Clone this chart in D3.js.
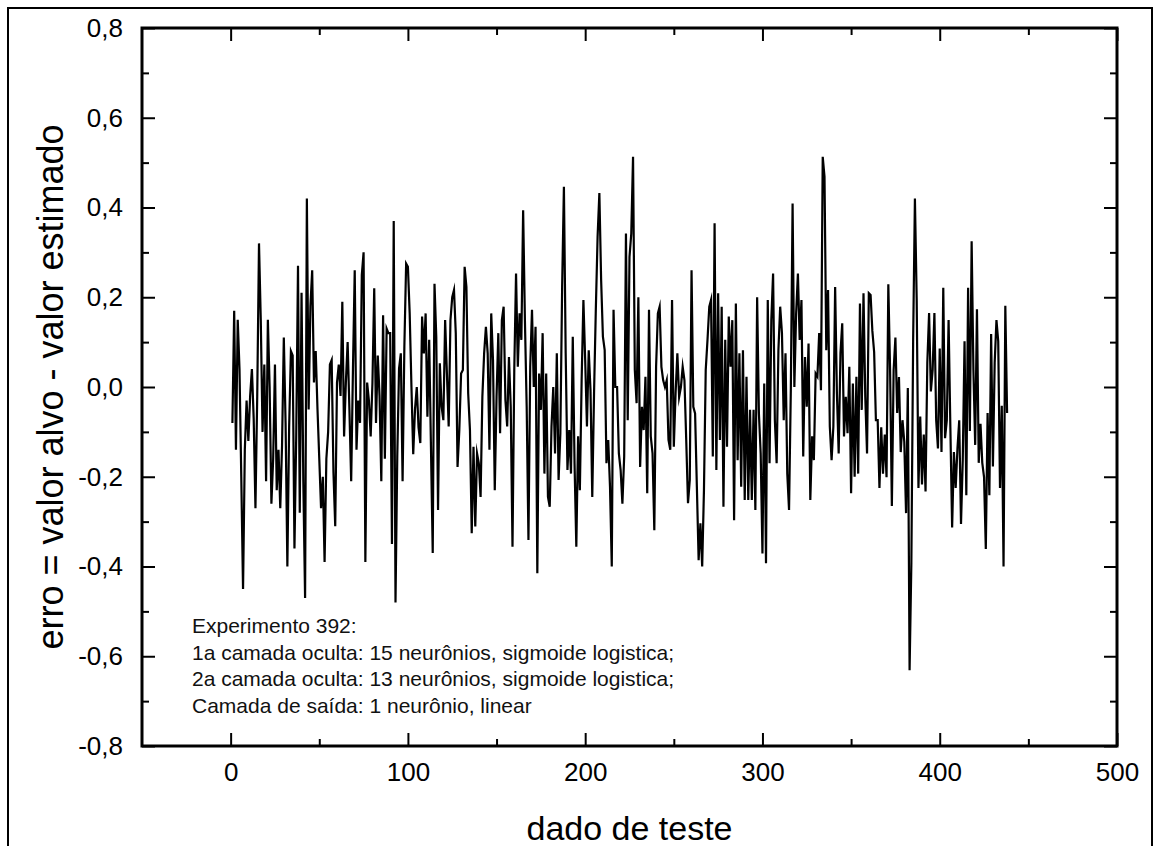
<!DOCTYPE html>
<html>
<head>
<meta charset="utf-8">
<script src="https://cdn.jsdelivr.net/npm/d3@7"></script>
<style>
  html, body { margin: 0; padding: 0; background: #fff; }
  svg { display: block; }
  .tick text { font-family: 'Liberation Sans', Arial, sans-serif; font-size: 26px; fill: #000; }
  .tick line { stroke: #000; stroke-width: 2px; }
</style>
</head>
<body>
<svg id="chart" width="1157" height="846"></svg>
<script>
var xDomain = [-50, 500];
var yDomain = [-0.8, 0.8];
var xTicks = [0, 100, 200, 300, 400, 500];
var xMinorTicks = [50, 150, 250, 350, 450];
var yTicks = [-0.8, -0.6, -0.4, -0.2, 0.0, 0.2, 0.4, 0.6, 0.8];
var yMinorTicks = [-0.7, -0.5, -0.3, -0.1, 0.1, 0.3, 0.5, 0.7];
var xTitle = 'dado de teste';
var yTitle = 'erro = valor alvo - valor estimado';
var captionLines = [
    'Experimento 392:',
    '1a camada oculta: 15 neurônios, sigmoide logistica;',
    '2a camada oculta: 13 neurônios, sigmoide logistica;',
    'Camada de saída: 1 neurônio, linear'
];

// erro por dado de teste (1..438)
var errorsA = [
    -0.08, 0.17, -0.14, 0.15, 0.04, -0.20, -0.45, -0.14, -0.03, -0.12,
    -0.02, 0.04, -0.07, -0.27, -0.02, 0.32, 0.15, -0.10, 0.05, -0.21,
    0.15, 0.00, -0.26, -0.16, 0.05, -0.23, -0.14, -0.27, -0.13, 0.11,
    -0.08, -0.40, -0.09, 0.08, 0.07, -0.36, -0.11, 0.27, -0.28, 0.21,
    -0.21, -0.47, 0.42, -0.05, 0.18, 0.26, 0.01, 0.08, -0.05, -0.16,
    -0.27, -0.20, -0.39, -0.16, -0.10, 0.05, 0.06, -0.19, -0.31, 0.01,
    0.05, -0.02, 0.19, -0.11, 0.01, 0.10, -0.05, -0.21, 0.04, 0.26,
    -0.14, -0.03, -0.08, 0.25, 0.30, -0.39, 0.01, -0.03, -0.11, 0.01,
    0.22, -0.08, 0.07, -0.02, -0.21, 0.16, -0.16, 0.13, 0.12, 0.12,
    -0.35
];
var errorsB = [
    0.37, -0.48, -0.155, 0.041, 0.075, -0.21, 0.09, 0.275, 0.268, 0.164,
    0.0, -0.15, -0.05, 0.0, -0.09, -0.125, 0.157, 0.075, 0.164, -0.066,
    0.105, -0.133, -0.37, 0.23, 0.112, -0.274, 0.053, -0.044, -0.074, 0.149,
    0.03, -0.088, 0.149, 0.2, 0.216, 0.12, -0.178, -0.096, 0.03, 0.038,
    0.268, 0.223, -0.014, -0.096, -0.326, -0.133, -0.311, -0.148, -0.17, -0.245,
    -0.022, 0.075, 0.134, 0.075, -0.14, 0.164, 0.06, -0.23, -0.022, 0.12,
    -0.103, 0.149, 0.179, -0.029, -0.088, 0.067, -0.044, -0.356, 0.038, 0.253,
    0.045, 0.164, 0.105, 0.394, 0.149, -0.044, -0.341, 0.045, 0.172, 0.0,
    0.134, -0.415, 0.03, -0.051, 0.12, -0.193, 0.03, -0.245, -0.267, -0.088,
    0.0, -0.148, 0.075, -0.207, -0.103, 0.223, 0.446, 0.075, -0.185, -0.096,
    -0.193, 0.112, -0.17, -0.356, -0.11, -0.23, 0.015, 0.194, 0.06, -0.088,
    0.082, -0.007, -0.245, -0.014, 0.172, 0.335, 0.432, 0.238, 0.112, 0.082,
    -0.17, -0.118, -0.222, -0.4, 0.172, 0.0, 0.0, -0.148, -0.185, -0.26,
    -0.155, 0.342, -0.074, 0.29, 0.342
];
var errorsC = [
    0.513, 0.038, -0.036, 0.2, -0.178, -0.044, -0.096, 0.023, -0.237, 0.172,
    -0.11, -0.148, -0.319, 0.045, 0.164, 0.179, 0.045, 0.015, 0.0, 0.015,
    -0.118, -0.14, 0.194, -0.133, -0.014, 0.075, -0.022, 0.0, 0.045, 0.015,
    -0.118, -0.259, -0.207, 0.26, -0.044, -0.059, -0.222, -0.386, -0.304, -0.4,
    -0.23, 0.038, 0.105, 0.179, 0.194, -0.155, 0.365, -0.185, 0.209, -0.118,
    0.179, -0.267, 0.105, -0.133, 0.157, 0.045, 0.149, -0.297, 0.186, -0.163,
    0.075, -0.222, 0.082, -0.252, 0.023, -0.252, -0.051, -0.252, -0.051, -0.274,
    0.2, -0.059, -0.148, -0.371, 0.008, -0.393, 0.194, -0.17, 0.149, 0.253,
    -0.074, -0.17, 0.082, 0.179, 0.12, -0.074, 0.075, -0.193, -0.274, -0.007,
    0.409, 0.0, 0.164, 0.253, 0.105, 0.194, -0.155, 0.067, -0.044, 0.097,
    -0.252, -0.11, -0.163, 0.03, 0.023, 0.12, -0.007, 0.513, 0.469, 0.082,
    0.216, -0.088, -0.163, -0.088, 0.223, -0.014, -0.148, 0.075, 0.142, -0.11,
    -0.022, -0.103, 0.045, -0.237, 0.008, -0.2, 0.023, -0.193, 0.186, -0.051,
    0.209, -0.022, -0.148, 0.209
];
var errorsD = [
    0.205, 0.125, 0.078, -0.074, -0.074, -0.225, -0.09, -0.193, -0.106, -0.201,
    0.229, 0.038, -0.265, 0.038, 0.11, -0.058, 0.022, -0.145, -0.074, -0.122,
    -0.281, -0.002, -0.631, -0.392, 0.102, 0.42, 0.197, -0.225, -0.066, -0.217,
    -0.106, -0.233, 0.054, 0.165, -0.01, 0.038, 0.165, -0.074, -0.137, 0.086,
    -0.145, 0.221, -0.114, -0.074, 0.149, -0.09, -0.313, -0.145, -0.225, -0.137,
    -0.074, -0.305, -0.161, 0.102, -0.241, 0.221, -0.098, 0.325, 0.038, -0.129,
    0.173, -0.169, -0.082, -0.169, -0.201, -0.361, -0.058, -0.241, 0.118, -0.177,
    0.054, 0.149, 0.102, -0.225, -0.042, -0.4, 0.181, -0.058
];
var errorValues = errorsA.concat(errorsB, errorsC, errorsD);

var svg = d3.select('#chart');
var plot = { left: 142, right: 1117, top: 28, bottom: 746 };
var x = d3.scaleLinear().domain(xDomain).range([plot.left, plot.right]);
var y = d3.scaleLinear().domain(yDomain).range([plot.bottom, plot.top]);
var sansFont = "'Liberation Sans', Arial, sans-serif";

function commaFormat(d) {
    return d.toFixed(1).replace('.', ',');
}

// moldura externa (recorte da pagina)
svg.append('rect')
    .attr('x', 8).attr('y', 8)
    .attr('width', 1144).attr('height', 860)
    .attr('fill', 'none').attr('stroke', '#000').attr('stroke-width', 2);

function addAxis(axis, transform, labels) {
    var g = svg.append('g').attr('transform', transform).call(axis);
    g.select('.domain').remove();
    if (!labels) g.selectAll('text').remove();
    return g;
}

// eixo x: baixo (com rotulos) e topo, ticks para dentro
addAxis(d3.axisBottom(x).tickValues(xTicks).tickSizeInner(-13).tickSizeOuter(0).tickPadding(17)
    .tickFormat(d3.format('d')), 'translate(0,' + plot.bottom + ')', true);
addAxis(d3.axisBottom(x).tickValues(xMinorTicks).tickSizeInner(-7).tickSizeOuter(0),
    'translate(0,' + plot.bottom + ')', false);
addAxis(d3.axisTop(x).tickValues(xTicks).tickSizeInner(-13).tickSizeOuter(0),
    'translate(0,' + plot.top + ')', false);
addAxis(d3.axisTop(x).tickValues(xMinorTicks).tickSizeInner(-7).tickSizeOuter(0),
    'translate(0,' + plot.top + ')', false);

// eixo y: esquerda (com rotulos) e direita
addAxis(d3.axisLeft(y).tickValues(yTicks).tickSizeInner(-13).tickSizeOuter(0).tickPadding(19)
    .tickFormat(commaFormat), 'translate(' + plot.left + ',0)', true);
addAxis(d3.axisLeft(y).tickValues(yMinorTicks).tickSizeInner(-7).tickSizeOuter(0),
    'translate(' + plot.left + ',0)', false);
addAxis(d3.axisRight(y).tickValues(yTicks).tickSizeInner(-13).tickSizeOuter(0),
    'translate(' + plot.right + ',0)', false);
addAxis(d3.axisRight(y).tickValues(yMinorTicks).tickSizeInner(-7).tickSizeOuter(0),
    'translate(' + plot.right + ',0)', false);

var line = d3.line()
    .x(function (d, i) { return x(i + 1); })
    .y(function (d) { return y(d); });

svg.append('path')
    .datum(errorValues)
    .attr('d', line)
    .attr('fill', 'none')
    .attr('stroke', '#000')
    .attr('stroke-width', 2.2)
    .attr('stroke-linejoin', 'miter')
    .attr('stroke-miterlimit', 10);

svg.append('rect')
    .attr('x', plot.left).attr('y', plot.top)
    .attr('width', plot.right - plot.left).attr('height', plot.bottom - plot.top)
    .attr('fill', 'none').attr('stroke', '#000').attr('stroke-width', 3);

// legenda do experimento
svg.append('g')
    .selectAll('text')
    .data(captionLines)
    .enter().append('text')
    .attr('x', 192)
    .attr('y', function (d, i) { return 633 + i * 26.5; })
    .attr('font-family', sansFont)
    .attr('font-size', 21)
    .attr('fill', '#111')
    .text(function (d) { return d; });

svg.append('text')
    .attr('x', (plot.left + plot.right) / 2)
    .attr('y', 840)
    .attr('text-anchor', 'middle')
    .attr('font-family', sansFont)
    .attr('font-size', 34)
    .text(xTitle);

svg.append('text')
    .attr('transform', 'translate(63,' + (plot.top + plot.bottom) / 2 + ') rotate(-90)')
    .attr('text-anchor', 'middle')
    .attr('font-family', sansFont)
    .attr('font-size', 36)
    .text(yTitle);
</script>
</body>
</html>
